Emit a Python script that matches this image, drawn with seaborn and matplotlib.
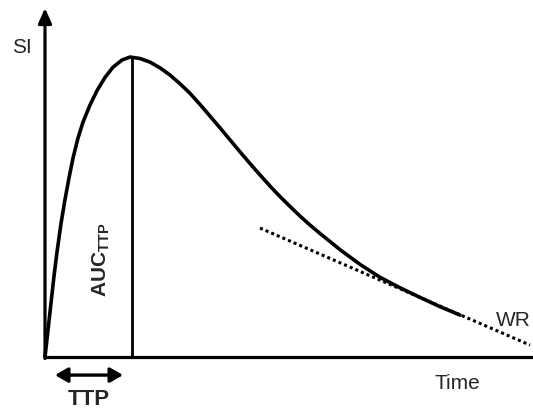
import matplotlib
matplotlib.use("Agg")
import matplotlib.pyplot as plt
import seaborn as sns
import pandas as pd

# signal intensity curve (time in arbitrary units, SI in % of peak)
time = [0, 0.3, 0.6, 0.9, 1.2, 1.6, 2.0, 2.4, 2.8, 3.3, 3.8, 4.5, 5.2, 6.0,
        6.8, 7.7, 8.5, 9.5, 10.5, 11.5, 12.5, 13.5, 14.5, 15.5, 16.5, 17.5,
        18.5, 19.5, 20.5, 21.5, 22.5, 23.5, 24.5, 25.5, 26.5, 27.5, 29.5,
        31.5, 33.5, 35.5, 37.5, 39.5, 41.5]
si = [0, 9, 18, 27, 35, 44.5, 52.5, 59.7, 66.3, 73, 78.3, 84, 88.8, 93.2,
      96.6, 99, 100, 99.5, 98.3, 96.4, 94, 91.1, 87.9, 84.2, 80.3, 76.4,
      72.4, 68.4, 64.5, 60.7, 57, 53.5, 50.2, 47, 44, 41.2, 35.8,
      30.9, 26.6, 23.1, 19.9, 16.8, 14]

# wash-out rate tangent
wr_time = [21.5, 48.5]
wr_si = [43, 4]

x_range = (-4.5, 48.8)
y_range = (-20.3, 119)

sns.set_style("white")
plt.rcParams["font.family"] = ["Liberation Sans", "DejaVu Sans"]
plt.rcParams["mathtext.fontset"] = "custom"
plt.rcParams["mathtext.bf"] = "Liberation Sans:bold"
plt.rcParams["mathtext.rm"] = "Liberation Sans"

curve = pd.DataFrame({"Time": time, "SI": si})
tangent = pd.DataFrame({"Time": wr_time, "SI": wr_si})

fig = plt.figure(figsize=(5.33, 4.18), dpi=100)
ax = fig.add_axes([0, 0, 1, 1])

sns.lineplot(data=curve, x="Time", y="SI", ax=ax, color="black", lw=2.6,
             sort=False, solid_capstyle="round", solid_joinstyle="round")
sns.lineplot(data=tangent, x="Time", y="SI", ax=ax, color="black", lw=2.2,
             linestyle=(0, (1, 1)))

# time to peak marker
peak_idx = curve["SI"].idxmax()
t_peak = curve.loc[peak_idx, "Time"]
ax.plot([t_peak + 0.2, t_peak + 0.2], [0, curve.loc[peak_idx, "SI"]],
        color="black", lw=2.0)

ax.set_xlim(*x_range)
ax.set_ylim(*y_range)
for s in ax.spines.values():
    s.set_visible(False)
ax.set_xticks([])
ax.set_yticks([])
ax.set_xlabel("")
ax.set_ylabel("")

# axes with arrow on SI
ax.plot([0, x_range[1]], [0, 0], color="black", lw=2.3, solid_capstyle="butt")
ax.annotate("", xy=(0, 116.3), xytext=(0, -0.5),
            arrowprops=dict(arrowstyle="-|>,head_length=0.45,head_width=0.2",
                            mutation_scale=20, color="black", lw=2.3,
                            shrinkA=0, shrinkB=0))

# TTP double arrow
ax.annotate("", xy=(1.0, -6.0), xytext=(7.8, -6.0),
            arrowprops=dict(arrowstyle="<|-|>,head_length=0.38,head_width=0.22",
                            mutation_scale=20, color="black", lw=2.4,
                            shrinkA=0, shrinkB=0))

ax.text(-2.3, 103.3, "SI", fontsize=15, ha="center", va="center")
ax.text(41.2, -8.7, "Time", fontsize=15, ha="center", va="center")
ax.text(4.4, -14.3, "TTP", fontsize=16, fontweight="bold", ha="center", va="center")
ax.text(46.8, 12.3, "WR", fontsize=15, ha="center", va="center")
ax.text(5.6, 32.3, r"$\mathbf{AUC}_{\mathbf{TTP}}$", fontsize=15, rotation=90,
        ha="center", va="center")

fig.savefig("out.png", dpi=100)
